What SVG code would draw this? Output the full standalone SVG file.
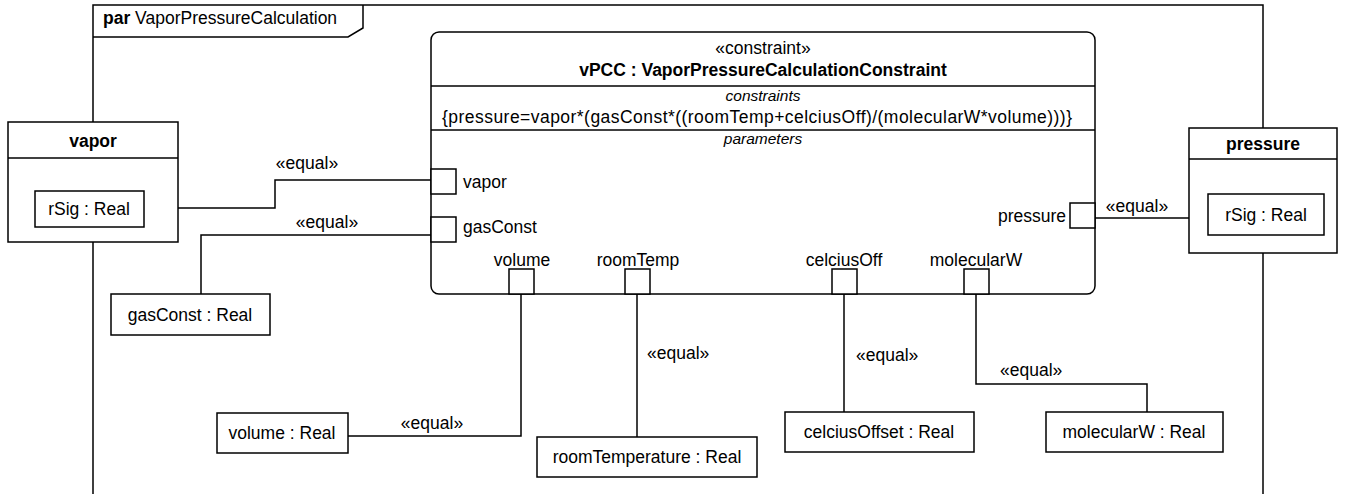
<svg xmlns="http://www.w3.org/2000/svg" width="1347" height="494" viewBox="0 0 1347 494">
<style>
text{font-family:"Liberation Sans",Arial,sans-serif;font-size:17.5px;fill:#000}
.b{font-weight:bold}
.i{font-style:italic;font-size:15.5px}
.m{text-anchor:middle}
.e{text-anchor:end}
.box{fill:#fff;stroke:#000;stroke-width:1.5}
.ln{fill:none;stroke:#000;stroke-width:1.5}
</style>
<rect width="1347" height="494" fill="#fff"/>
<g id="frame">
<rect x="93" y="5" width="1170" height="520" class="ln"/>
<path d="M93 37 H348 L363 28 V5" class="ln"/>
<text x="103" y="24"><tspan class="b">par</tspan> VaporPressureCalculation</text>
</g>
<g id="connectors">
<path d="M144 208 H275 V180 H431" class="ln"/>
<text x="307" y="169" class="m">«equal»</text>
<path d="M431 235 H201 V294" class="ln"/>
<text x="327" y="228" class="m">«equal»</text>
<path d="M1095 218 H1208" class="ln"/>
<text x="1137" y="212" class="m">«equal»</text>
<path d="M521 294 V436 H348" class="ln"/>
<text x="432" y="429" class="m">«equal»</text>
<path d="M637 294 V437" class="ln"/>
<text x="647" y="359">«equal»</text>
<path d="M844 294 V412" class="ln"/>
<text x="856" y="361">«equal»</text>
<path d="M976 294 V384 H1147 V412" class="ln"/>
<text x="1000" y="376">«equal»</text>
</g>
<g id="vPCC">
<rect x="431" y="32" width="664" height="262" rx="8" class="box"/>
<line x1="431" y1="86" x2="1095" y2="86" class="ln"/>
<line x1="431" y1="130" x2="1095" y2="130" class="ln"/>
<text x="763" y="54" class="m">«constraint»</text>
<text x="763" y="76" class="m b">vPCC : VaporPressureCalculationConstraint</text>
<text x="763" y="101" class="m i">constraints</text>
<text x="757" y="123" class="m" textLength="630" lengthAdjust="spacing">{pressure=vapor*(gasConst*((roomTemp+celciusOff)/(molecularW*volume)))}</text>
<text x="763" y="144" class="m i">parameters</text>
<rect x="431" y="169" width="25" height="25" class="box"/>
<text x="463" y="188">vapor</text>
<rect x="431" y="217" width="25" height="25" class="box"/>
<text x="463" y="233">gasConst</text>
<rect x="1070" y="203" width="25" height="25" class="box"/>
<text x="1066" y="222" class="e">pressure</text>
<rect x="509" y="269" width="25" height="25" class="box"/>
<text x="522" y="266" class="m">volume</text>
<rect x="625" y="269" width="25" height="25" class="box"/>
<text x="638" y="266" class="m">roomTemp</text>
<rect x="832" y="269" width="25" height="25" class="box"/>
<text x="844" y="266" class="m">celciusOff</text>
<rect x="964" y="269" width="25" height="25" class="box"/>
<text x="976" y="266" class="m">molecularW</text>
</g>
<g id="vapor">
<rect x="8" y="122" width="170" height="120" class="box"/>
<line x1="8" y1="158" x2="178" y2="158" class="ln"/>
<text x="93" y="147" class="m b">vapor</text>
<rect x="35" y="191" width="109" height="36" class="box"/>
<text x="89" y="215" class="m">rSig : Real</text>
</g>
<g id="pressure">
<rect x="1189" y="128" width="148" height="125" class="box"/>
<line x1="1189" y1="159" x2="1337" y2="159" class="ln"/>
<text x="1263" y="150" class="m b">pressure</text>
<rect x="1208" y="194" width="116" height="41" class="box"/>
<text x="1266" y="221" class="m">rSig : Real</text>
</g>
<g id="gasConst">
<rect x="111" y="294" width="159" height="41" class="box"/>
<text x="190" y="321" class="m">gasConst : Real</text>
</g>
<g id="volume">
<rect x="217" y="413" width="131" height="40" class="box"/>
<text x="282" y="439" class="m">volume : Real</text>
</g>
<g id="roomTemperature">
<rect x="537" y="437" width="220" height="40" class="box"/>
<text x="647" y="463" class="m">roomTemperature : Real</text>
</g>
<g id="celciusOffset">
<rect x="785" y="412" width="189" height="40" class="box"/>
<text x="879" y="438" class="m">celciusOffset : Real</text>
</g>
<g id="molecularW">
<rect x="1046" y="412" width="177" height="40" class="box"/>
<text x="1134" y="438" class="m">molecularW : Real</text>
</g>
</svg>
